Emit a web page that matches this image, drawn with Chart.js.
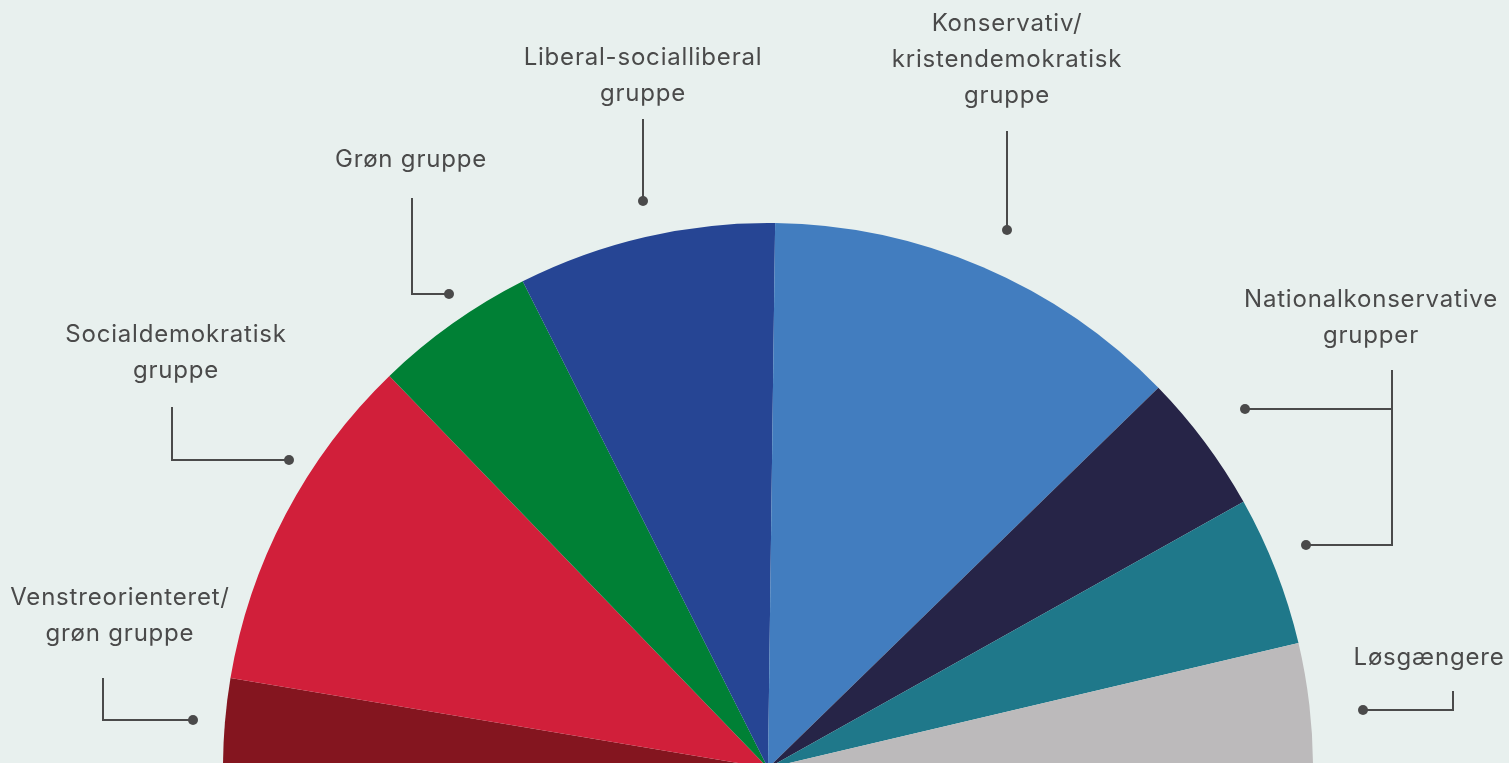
<!DOCTYPE html>
<html lang="da">
<head>
<meta charset="utf-8">
<title>Europa-Parlamentets grupper</title>
<script src="https://cdn.jsdelivr.net/npm/chart.js@4/dist/chart.umd.min.js"></script>
<style>
  html, body { margin: 0; padding: 0; background: #e8f0ee; overflow: hidden; }
  #chart { display: block; }
</style>
</head>
<body>
<canvas id="chart" width="1509" height="763"></canvas>
<script>
// Groups in seat order, left to right
const groups = [
    'Venstreorienteret/ grøn gruppe',
    'Socialdemokratisk gruppe',
    'Grøn gruppe',
    'Liberal-socialliberal gruppe',
    'Konservativ/ kristendemokratisk gruppe',
    'Nationalkonservative grupper (1)',
    'Nationalkonservative grupper (2)',
    'Løsgængere'
];
const seats = [38, 146, 69, 110, 180, 60, 64, 53];
const colors = ['#84151f', '#d11f3a', '#008035', '#264594', '#427dbf', '#262447', '#1f788a', '#bcbabb'];

// label text lines, with leader lines (layout only)
const labels = [
    { lines: ['Venstreorienteret/', 'grøn gruppe'], x: 120, y: 605, path: [[103, 678], [103, 720], [193, 720]], dots: [[193, 720]] },
    { lines: ['Socialdemokratisk', 'gruppe'], x: 176, y: 342, path: [[172, 407], [172, 460], [289, 460]], dots: [[289, 460]] },
    { lines: ['Grøn gruppe'], x: 411, y: 167, path: [[412, 198], [412, 294], [449, 294]], dots: [[449, 294]] },
    { lines: ['Liberal-socialliberal', 'gruppe'], x: 643, y: 65, path: [[643, 119], [643, 201]], dots: [[643, 201]] },
    { lines: ['Konservativ/', 'kristendemokratisk', 'gruppe'], x: 1007, y: 31, path: [[1007, 131], [1007, 230]], dots: [[1007, 230]] },
    { lines: ['Nationalkonservative', 'grupper'], x: 1371, y: 307, path: [[1392, 370], [1392, 545], [1306, 545]], dots: [[1245, 409], [1306, 545]], extra: [[1392, 409], [1245, 409]] },
    { lines: ['Løsgængere'], x: 1429, y: 665, path: [[1453, 691], [1453, 710], [1363, 710]], dots: [[1363, 710]] }
];

const labelPlugin = {
    id: 'leaderLabels',
    beforeDraw(chart) {
        const ctx = chart.ctx;
        ctx.save();
        ctx.fillStyle = '#e8f0ee';
        ctx.fillRect(0, 0, chart.width, chart.height);
        ctx.restore();
    },
    afterDraw(chart) {
        const ctx = chart.ctx;
        ctx.save();
        ctx.fillStyle = '#4a4a4a';
        ctx.strokeStyle = '#4a4a4a';
        ctx.lineWidth = 2;
        ctx.font = '24px Inter, "Open Sans", sans-serif';
        ctx.letterSpacing = '0.8px';
        ctx.textAlign = 'center';
        ctx.textBaseline = 'alphabetic';
        labels.forEach(l => {
            l.lines.forEach((t, i) => ctx.fillText(t, l.x, l.y + i * 36));
            const segs = [l.path];
            if (l.extra) segs.push(l.extra);
            segs.forEach(p => {
                ctx.beginPath();
                p.forEach(([x, y], i) => i ? ctx.lineTo(x, y) : ctx.moveTo(x, y));
                ctx.stroke();
            });
            l.dots.forEach(([x, y]) => {
                ctx.beginPath();
                ctx.arc(x, y, 5, 0, Math.PI * 2);
                ctx.fill();
            });
        });
        ctx.restore();
    }
};

new Chart(document.getElementById('chart'), {
    type: 'pie',
    data: {
        labels: groups,
        datasets: [{
            data: seats,
            backgroundColor: colors,
            borderWidth: 0,
            radius: 545
        }]
    },
    options: {
        responsive: false,
        animation: false,
        devicePixelRatio: 1,
        rotation: -90,
        circumference: 180,
        radius: 545,
        layout: { padding: { left: 27, top: 228, right: 0, bottom: 0 } },
        plugins: {
            legend: { display: false },
            tooltip: { enabled: false }
        }
    },
    plugins: [labelPlugin]
});
</script>
</body>
</html>
